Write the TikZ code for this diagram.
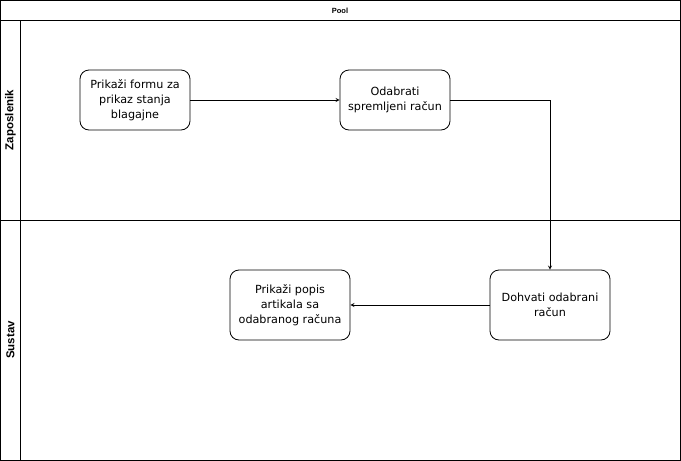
\documentclass[tikz,border=0pt]{standalone}
\usepackage{fontspec}
\setmainfont{Liberation Sans}
\newfontfamily\boxfont{DejaVu Sans}
\usetikzlibrary{arrows,positioning}

\begin{document}
\begin{tikzpicture}[x=1pt,y=-1pt,
    activity/.style={rectangle, draw=black, line width=0.8pt, rounded corners=9pt, minimum width=110pt, minimum height=60pt, align=center, font=\boxfont\fontsize{11.2}{15}\selectfont},
    lanelabel/.style={rotate=90, font=\bfseries\fontsize{11.5}{13}\selectfont},
    arrow/.style={->, >=stealth, line width=0.8pt}
]

\useasboundingbox (0,0) rectangle (681,461);

% pool and lanes
\draw[line width=0.8pt] (0.5,0.5) rectangle (680.5,460.5);
\draw[line width=0.8pt] (0.5,20.5) -- (680.5,20.5);
\draw[line width=0.8pt] (20.5,20.5) -- (20.5,460.5);
\draw[line width=0.8pt] (0.5,220.5) -- (680.5,220.5);

\node[font=\bfseries\fontsize{7.5}{8}\selectfont] (pool) at (340,10.5) {Pool};
\node[lanelabel] (zaposlenik) at (10.5,120) {Zaposlenik};
\node[lanelabel] (sustav) at (10.5,340) {Sustav};

\node[activity] (forma) at (135,100) {Prikaži formu za\\prikaz stanja\\blagajne};
\node[activity] (odabir) at (395,100) {Odabrati\\spremljeni račun};
\node[activity, minimum width=120pt, minimum height=70pt] (dohvat) at (550,305) {Dohvati odabrani\\račun};
\node[activity, minimum width=120pt, minimum height=70pt] (popis) at (290,305) {Prikaži popis\\artikala sa\\odabranog računa};

\draw[arrow] (forma) -- (odabir);
\draw[arrow] (odabir.east) -| (dohvat.north);
\draw[arrow] (dohvat) -- (popis);

\end{tikzpicture}
\end{document}
